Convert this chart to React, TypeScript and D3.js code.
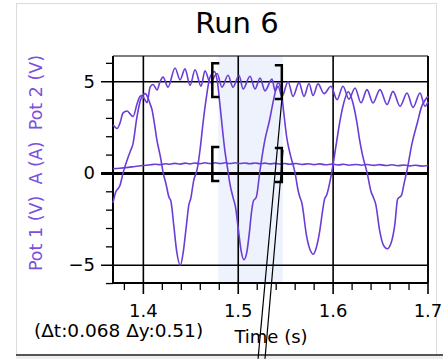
import React from "react";
import * as d3 from "d3";

const W = 443;
const H = 359;

const title = "Run 6";
const yLabel = "Pot 1 (V)\u00a0\u00a0A (A)\u00a0\u00a0Pot 2 (V)";
const xLabel = "Time (s)";
const annotation = "(\u0394t:0.068 \u0394y:0.51)";

const xMajorTicks = [1.4, 1.5, 1.6, 1.7];
const xTickLabels = ["1.4", "1.5", "1.6", "1.7"];
const yMajorTicks = [-5, 0, 5];
const yTickLabels = ["\u22125", "0", "5"];

// Pot 1 (V)
const pot1T = [1.368, 1.371, 1.373, 1.375, 1.379, 1.384, 1.387, 1.389, 1.393, 1.397, 1.400, 1.402, 1.405, 1.407, 1.409, 1.412, 1.414, 1.418, 1.421, 1.424, 1.427, 1.429, 1.432, 1.435, 1.439, 1.442, 1.445, 1.448, 1.450, 1.453, 1.457, 1.460, 1.463, 1.466, 1.470, 1.475, 1.478, 1.481, 1.484, 1.486, 1.489, 1.491, 1.495, 1.497, 1.500, 1.503, 1.506, 1.509, 1.512, 1.514, 1.516, 1.519, 1.523, 1.528, 1.533, 1.538, 1.542, 1.545, 1.548, 1.551, 1.555, 1.560, 1.563, 1.565, 1.567, 1.572, 1.576, 1.579, 1.583, 1.586, 1.589, 1.591, 1.593, 1.599, 1.603, 1.607, 1.611, 1.616, 1.620, 1.625, 1.628, 1.631, 1.636, 1.640, 1.642, 1.645, 1.649, 1.653, 1.657, 1.661, 1.665, 1.668, 1.672, 1.675, 1.678, 1.683, 1.689, 1.693, 1.697, 1.700];
const pot1V = [-1.6, -1.0, -0.85, -0.7, 0.1, 0.9, 1.3, 1.6, 3.0, 4.0, 4.3, 4.35, 4.1, 3.8, 3.5, 2.6, 1.9, 0.9, 0.0, -0.6, -1.3, -1.5, -2.8, -4.2, -5.0, -4.3, -3.0, -1.7, -1.35, -0.4, 0.3, 1.4, 2.8, 4.0, 5.2, 5.55, 5.0, 3.6, 2.1, 1.2, 0.2, -0.5, -1.4, -1.8, -3.0, -4.2, -4.7, -4.3, -3.1, -2.1, -1.5, -1.3, 0.2, 1.8, 2.9, 4.2, 4.95, 4.6, 3.3, 2.0, 1.0, 0.0, -0.9, -1.3, -1.6, -3.4, -4.2, -4.4, -3.9, -3.1, -2.0, -1.4, -1.2, 0.2, 1.5, 2.8, 3.8, 4.45, 4.0, 2.8, 1.8, 1.0, 0.0, -1.0, -1.25, -1.7, -3.1, -3.9, -4.1, -3.8, -2.8, -1.4, -1.2, -0.5, 0.2, 1.6, 2.8, 3.6, 4.0, 4.2];

// Pot 2 (V)
const pot2T = [1.3681, 1.3723, 1.3754, 1.3786, 1.3828, 1.3860, 1.3891, 1.3934, 1.3965, 1.3986, 1.4018, 1.4039, 1.4071, 1.4102, 1.4144, 1.4176, 1.4208, 1.4260, 1.4334, 1.4387, 1.4439, 1.4492, 1.4545, 1.4608, 1.4650, 1.4703, 1.4777, 1.4829, 1.4892, 1.4945, 1.5008, 1.5051, 1.5124, 1.5177, 1.5230, 1.5282, 1.5356, 1.5388, 1.5419, 1.5461, 1.5525, 1.5577, 1.5641, 1.5693, 1.5746, 1.5788, 1.5841, 1.5904, 1.5978, 1.6041, 1.6104, 1.6167, 1.6231, 1.6294, 1.6357, 1.6420, 1.6494, 1.6568, 1.6631, 1.6705, 1.6779, 1.6842, 1.6916, 1.6968, 1.7000];
const pot2V = [2.65, 2.45, 2.75, 3.3, 3.4, 3.25, 3.1, 3.8, 4.2, 4.25, 4.0, 3.85, 4.7, 4.85, 4.55, 5.0, 5.25, 4.7, 5.75, 5.1, 5.7, 4.8, 5.65, 4.75, 5.6, 4.95, 5.45, 4.7, 5.35, 4.7, 5.35, 4.6, 5.3, 4.6, 5.2, 4.5, 5.15, 4.5, 4.75, 4.2, 5.0, 4.2, 4.95, 4.2, 4.9, 4.25, 4.88, 4.35, 4.75, 4.02, 4.75, 4.05, 4.66, 3.85, 4.57, 3.84, 4.57, 3.75, 4.47, 3.66, 4.38, 3.6, 4.38, 3.66, 3.9];

// A (A)
const ampT = [1.368, 1.375, 1.384, 1.391, 1.399, 1.407, 1.412, 1.418, 1.423, 1.428, 1.433, 1.439, 1.444, 1.449, 1.454, 1.460, 1.465, 1.470, 1.476, 1.481, 1.486, 1.491, 1.497, 1.502, 1.507, 1.512, 1.518, 1.523, 1.528, 1.533, 1.539, 1.544, 1.549, 1.554, 1.561, 1.567, 1.574, 1.580, 1.586, 1.592, 1.599, 1.605, 1.611, 1.617, 1.624, 1.630, 1.636, 1.643, 1.649, 1.656, 1.662, 1.668, 1.675, 1.681, 1.687, 1.693, 1.700];
const ampV = [0.26, 0.28, 0.33, 0.38, 0.43, 0.47, 0.50, 0.48, 0.53, 0.50, 0.55, 0.51, 0.56, 0.52, 0.57, 0.53, 0.58, 0.54, 0.58, 0.54, 0.58, 0.54, 0.58, 0.54, 0.57, 0.53, 0.57, 0.53, 0.56, 0.52, 0.55, 0.51, 0.54, 0.50, 0.54, 0.49, 0.53, 0.48, 0.52, 0.47, 0.51, 0.46, 0.50, 0.45, 0.49, 0.45, 0.49, 0.44, 0.48, 0.43, 0.47, 0.42, 0.46, 0.41, 0.45, 0.40, 0.43];

// selection / examine cursor
const selStart = 1.479;
const selEnd = 1.547;
const upperBracketLeft = [6.0, 4.17];
const upperBracketRight = [5.9, 4.06];
const lowerBracketLeft = [1.44, -0.41];
const lowerBracketRight = [1.39, -0.46];
const tangent1 = [[1.5461, 4.11], [1.5209, -10.1]];
const tangent2 = [[1.5472, 1.28], [1.5282, -10.1]];

const PURPLE = "#6a3dd6";
const FONT = "'DejaVu Sans', Verdana, sans-serif";

export default function App() {
  const left = 113, right = 428, top = 56, bottom = 283;
  const x = d3.scaleLinear().domain([1.368, 1.7]).range([left, right]);
  const y = d3.scaleLinear().domain([-5.97, 6.4]).range([bottom, top]);

  const line = d3
    .line<[number, number]>()
    .x((d) => x(d[0]))
    .y((d) => y(d[1]))
    .curve(d3.curveMonotoneX);

  const zip = (t: number[], v: number[]) => t.map((tt, i) => [tt, v[i]] as [number, number]);

  const xMinor = d3.range(1.38, 1.7001, 0.02).filter((t) => !xMajorTicks.some((m) => Math.abs(m - t) < 1e-6));
  const yMinor = d3.range(-6, 6.001, 1).filter((v) => !yMajorTicks.includes(v));

  const bracket = (t: number, vs: number[], side: "l" | "r") => {
    const x0 = x(t);
    const vx = side === "l" ? x0 - 6 : x0 - 1;
    const sx = side === "l" ? x0 + 1 : x0 - 8;
    const y0 = y(vs[0]);
    const y1 = y(vs[1]);
    return `M${sx},${y0}H${vx}V${y1}H${sx}`;
  };

  return (
    <svg
      width={W}
      height={H}
      style={{ position: "absolute", left: 0, top: 0, background: "#fff" }}
      fontFamily={FONT}
    >
      <rect x={0} y={0} width={W} height={H} fill="#fff" />
      <rect x={16.5} y={3.5} width={420} height={351} fill="#fff" stroke="#dcdcdc" />
      <line x1={16} x2={W} y1={355} y2={355} stroke="#555" strokeWidth={2} />
      <rect x={16} y={356} width={W - 16} height={3} fill="#eee" />

      <text x={237} y={33} textAnchor="middle" fontSize={29} fill="#000">
        {title}
      </text>

      {/* selection shading */}
      <rect x={x(selStart)} y={top} width={x(selEnd) - x(selStart)} height={bottom - top} fill="#edf2fc" />

      {/* vertical gridlines + major ticks */}
      {xMajorTicks.map((t, i) => (
        <g key={"xm" + i}>
          <line x1={x(t)} x2={x(t)} y1={top} y2={bottom + 11} stroke="#000" strokeWidth={1.6} />
          <text x={x(t)} y={317} textAnchor="middle" fontSize={18} fill="#000">
            {xTickLabels[i]}
          </text>
        </g>
      ))}
      {xMinor.map((t, i) => (
        <line key={"xn" + i} x1={x(t)} x2={x(t)} y1={bottom} y2={bottom + 7} stroke="#000" strokeWidth={1.3} />
      ))}

      {/* horizontal gridlines */}
      {yMajorTicks.map((v, i) => (
        <g key={"ym" + i}>
          <line
            x1={left - 12}
            x2={right}
            y1={y(v)}
            y2={y(v)}
            stroke="#000"
            strokeWidth={v === 0 ? 3 : 1.6}
          />
          <text x={95} y={y(v) + 6} textAnchor="end" fontSize={18} fill="#000">
            {yTickLabels[i]}
          </text>
        </g>
      ))}
      {yMinor.map((v, i) => (
        <line key={"yn" + i} x1={left - 7} x2={left} y1={y(v)} y2={y(v)} stroke="#000" strokeWidth={1.3} />
      ))}

      {/* plot frame */}
      <line x1={left} x2={right} y1={top} y2={top} stroke="#000" strokeWidth={1.2} />
      <line x1={left} x2={left} y1={top} y2={bottom} stroke="#000" strokeWidth={2} />
      <line x1={right} x2={right} y1={top} y2={bottom} stroke="#000" strokeWidth={1.6} />
      <line x1={left} x2={right} y1={bottom} y2={bottom} stroke="#000" strokeWidth={2} />

      {/* data */}
      <g fill="none" stroke={PURPLE} strokeWidth={1.6}>
        <path d={line(zip(ampT, ampV)) || ""} />
        <path d={line(zip(pot2T, pot2V)) || ""} />
        <path d={line(zip(pot1T, pot1V)) || ""} />
      </g>

      {/* brackets */}
      <g fill="none" stroke="#000" strokeWidth={2.5}>
        <path d={bracket(selStart, upperBracketLeft, "l")} />
        <path d={bracket(selEnd, upperBracketRight, "r")} />
        <path d={bracket(selStart, lowerBracketLeft, "l")} />
        <path d={bracket(selEnd, lowerBracketRight, "r")} />
      </g>
      <g stroke="#000" strokeWidth={1.2}>
        <line x1={x(tangent1[0][0])} y1={y(tangent1[0][1])} x2={x(tangent1[1][0])} y2={y(tangent1[1][1])} />
        <line x1={x(tangent2[0][0])} y1={y(tangent2[0][1])} x2={x(tangent2[1][0])} y2={y(tangent2[1][1])} />
      </g>

      <text x={34} y={337} fontSize={18.5} fill="#000">
        {annotation}
      </text>
      <text x={271} y={343} textAnchor="middle" fontSize={18} fill="#000">
        {xLabel}
      </text>
      <text
        transform={`translate(42,163) rotate(-90)`}
        textAnchor="middle"
        fontSize={17.5}
        fill="#7b4fe0"
      >
        {yLabel}
      </text>
    </svg>
  );
}
